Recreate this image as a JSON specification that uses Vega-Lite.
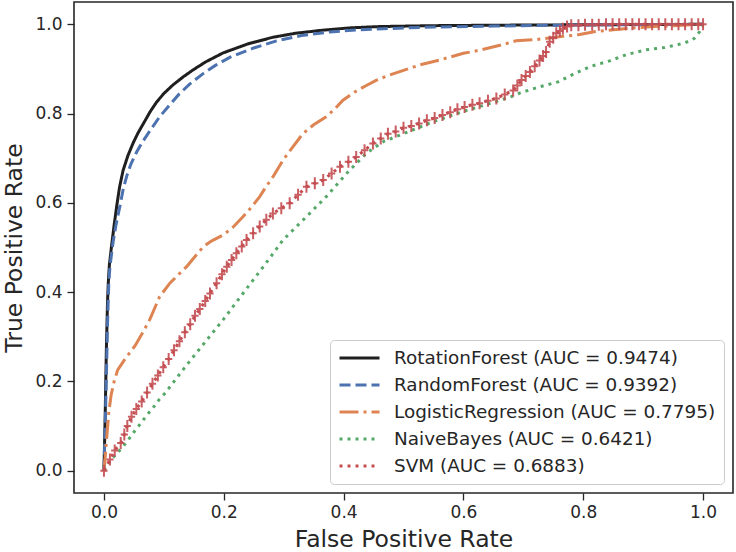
{
  "$schema": "https://vega.github.io/schema/vega-lite/v6.json",
  "autosize": {"type": "none"},
  "width": 659,
  "height": 491,
  "padding": {"left": 74, "top": 2, "right": 3, "bottom": 59},
  "background": "white",
  "config": {
    "view": {"stroke": "#262626", "strokeWidth": 1.6},
    "axis": {"grid": false, "domain": false, "tickSize": 7, "tickWidth": 1.3, "tickColor": "#262626",
      "labelFont": "DejaVu Sans", "labelFontSize": 17, "labelColor": "#262626",
      "titleFont": "DejaVu Sans", "titleFontSize": 23.5, "titleFontWeight": "normal", "titleColor": "#262626"},
    "legend": {"labelFont": "DejaVu Sans", "labelFontSize": 18.4, "labelColor": "#262626", "labelLimit": 0}
  },
  "datasets": {
    "roc": [
      {"model": "RotationForest", "fpr": 0, "tpr": 0},
      {"model": "RotationForest", "fpr": 0.002, "tpr": 0.12},
      {"model": "RotationForest", "fpr": 0.004, "tpr": 0.27},
      {"model": "RotationForest", "fpr": 0.006, "tpr": 0.38},
      {"model": "RotationForest", "fpr": 0.0072, "tpr": 0.42},
      {"model": "RotationForest", "fpr": 0.009, "tpr": 0.46},
      {"model": "RotationForest", "fpr": 0.0128, "tpr": 0.505},
      {"model": "RotationForest", "fpr": 0.017, "tpr": 0.55},
      {"model": "RotationForest", "fpr": 0.021, "tpr": 0.59},
      {"model": "RotationForest", "fpr": 0.026, "tpr": 0.635},
      {"model": "RotationForest", "fpr": 0.032, "tpr": 0.673},
      {"model": "RotationForest", "fpr": 0.04, "tpr": 0.706},
      {"model": "RotationForest", "fpr": 0.049, "tpr": 0.735},
      {"model": "RotationForest", "fpr": 0.057, "tpr": 0.757},
      {"model": "RotationForest", "fpr": 0.066, "tpr": 0.778},
      {"model": "RotationForest", "fpr": 0.077, "tpr": 0.804},
      {"model": "RotationForest", "fpr": 0.088, "tpr": 0.826},
      {"model": "RotationForest", "fpr": 0.1, "tpr": 0.845},
      {"model": "RotationForest", "fpr": 0.115, "tpr": 0.864},
      {"model": "RotationForest", "fpr": 0.132, "tpr": 0.882},
      {"model": "RotationForest", "fpr": 0.15, "tpr": 0.899},
      {"model": "RotationForest", "fpr": 0.17, "tpr": 0.916},
      {"model": "RotationForest", "fpr": 0.199, "tpr": 0.936},
      {"model": "RotationForest", "fpr": 0.24, "tpr": 0.956},
      {"model": "RotationForest", "fpr": 0.282, "tpr": 0.971},
      {"model": "RotationForest", "fpr": 0.32, "tpr": 0.98},
      {"model": "RotationForest", "fpr": 0.366, "tpr": 0.987},
      {"model": "RotationForest", "fpr": 0.41, "tpr": 0.992},
      {"model": "RotationForest", "fpr": 0.46, "tpr": 0.995},
      {"model": "RotationForest", "fpr": 0.55, "tpr": 0.997},
      {"model": "RotationForest", "fpr": 0.65, "tpr": 0.998},
      {"model": "RotationForest", "fpr": 0.8, "tpr": 0.999},
      {"model": "RotationForest", "fpr": 1, "tpr": 1},
      {"model": "RandomForest", "fpr": 0, "tpr": 0},
      {"model": "RandomForest", "fpr": 0.003, "tpr": 0.15},
      {"model": "RandomForest", "fpr": 0.006, "tpr": 0.33},
      {"model": "RandomForest", "fpr": 0.008, "tpr": 0.42},
      {"model": "RandomForest", "fpr": 0.01, "tpr": 0.457},
      {"model": "RandomForest", "fpr": 0.015, "tpr": 0.51},
      {"model": "RandomForest", "fpr": 0.02, "tpr": 0.55},
      {"model": "RandomForest", "fpr": 0.027, "tpr": 0.595},
      {"model": "RandomForest", "fpr": 0.032, "tpr": 0.63},
      {"model": "RandomForest", "fpr": 0.038, "tpr": 0.66},
      {"model": "RandomForest", "fpr": 0.045, "tpr": 0.687},
      {"model": "RandomForest", "fpr": 0.055, "tpr": 0.715},
      {"model": "RandomForest", "fpr": 0.066, "tpr": 0.74},
      {"model": "RandomForest", "fpr": 0.08, "tpr": 0.768},
      {"model": "RandomForest", "fpr": 0.093, "tpr": 0.793},
      {"model": "RandomForest", "fpr": 0.11, "tpr": 0.82},
      {"model": "RandomForest", "fpr": 0.125, "tpr": 0.843},
      {"model": "RandomForest", "fpr": 0.143, "tpr": 0.866},
      {"model": "RandomForest", "fpr": 0.165, "tpr": 0.889},
      {"model": "RandomForest", "fpr": 0.186, "tpr": 0.908},
      {"model": "RandomForest", "fpr": 0.21, "tpr": 0.926},
      {"model": "RandomForest", "fpr": 0.25, "tpr": 0.947},
      {"model": "RandomForest", "fpr": 0.288, "tpr": 0.963},
      {"model": "RandomForest", "fpr": 0.33, "tpr": 0.975},
      {"model": "RandomForest", "fpr": 0.377, "tpr": 0.983},
      {"model": "RandomForest", "fpr": 0.42, "tpr": 0.987},
      {"model": "RandomForest", "fpr": 0.466, "tpr": 0.99},
      {"model": "RandomForest", "fpr": 0.55, "tpr": 0.994},
      {"model": "RandomForest", "fpr": 0.65, "tpr": 0.996},
      {"model": "RandomForest", "fpr": 0.75, "tpr": 0.998},
      {"model": "RandomForest", "fpr": 0.85, "tpr": 0.999},
      {"model": "RandomForest", "fpr": 1, "tpr": 1},
      {"model": "LogisticRegression", "fpr": 0, "tpr": 0},
      {"model": "LogisticRegression", "fpr": 0.002, "tpr": 0.03},
      {"model": "LogisticRegression", "fpr": 0.005, "tpr": 0.08},
      {"model": "LogisticRegression", "fpr": 0.008, "tpr": 0.13},
      {"model": "LogisticRegression", "fpr": 0.012, "tpr": 0.17},
      {"model": "LogisticRegression", "fpr": 0.017, "tpr": 0.2},
      {"model": "LogisticRegression", "fpr": 0.023, "tpr": 0.226},
      {"model": "LogisticRegression", "fpr": 0.035, "tpr": 0.25},
      {"model": "LogisticRegression", "fpr": 0.052, "tpr": 0.28},
      {"model": "LogisticRegression", "fpr": 0.065, "tpr": 0.31},
      {"model": "LogisticRegression", "fpr": 0.077, "tpr": 0.34},
      {"model": "LogisticRegression", "fpr": 0.093, "tpr": 0.39},
      {"model": "LogisticRegression", "fpr": 0.11, "tpr": 0.42},
      {"model": "LogisticRegression", "fpr": 0.125, "tpr": 0.44},
      {"model": "LogisticRegression", "fpr": 0.138, "tpr": 0.457},
      {"model": "LogisticRegression", "fpr": 0.152, "tpr": 0.48},
      {"model": "LogisticRegression", "fpr": 0.166, "tpr": 0.502},
      {"model": "LogisticRegression", "fpr": 0.18, "tpr": 0.515},
      {"model": "LogisticRegression", "fpr": 0.199, "tpr": 0.528},
      {"model": "LogisticRegression", "fpr": 0.215, "tpr": 0.545},
      {"model": "LogisticRegression", "fpr": 0.232, "tpr": 0.569},
      {"model": "LogisticRegression", "fpr": 0.246, "tpr": 0.59},
      {"model": "LogisticRegression", "fpr": 0.26, "tpr": 0.614},
      {"model": "LogisticRegression", "fpr": 0.27, "tpr": 0.635},
      {"model": "LogisticRegression", "fpr": 0.282, "tpr": 0.658},
      {"model": "LogisticRegression", "fpr": 0.299, "tpr": 0.696},
      {"model": "LogisticRegression", "fpr": 0.315, "tpr": 0.725},
      {"model": "LogisticRegression", "fpr": 0.332, "tpr": 0.755},
      {"model": "LogisticRegression", "fpr": 0.35, "tpr": 0.775},
      {"model": "LogisticRegression", "fpr": 0.371, "tpr": 0.793},
      {"model": "LogisticRegression", "fpr": 0.385, "tpr": 0.81},
      {"model": "LogisticRegression", "fpr": 0.399, "tpr": 0.83},
      {"model": "LogisticRegression", "fpr": 0.418, "tpr": 0.848},
      {"model": "LogisticRegression", "fpr": 0.438, "tpr": 0.863},
      {"model": "LogisticRegression", "fpr": 0.455, "tpr": 0.875},
      {"model": "LogisticRegression", "fpr": 0.472, "tpr": 0.884},
      {"model": "LogisticRegression", "fpr": 0.5, "tpr": 0.897},
      {"model": "LogisticRegression", "fpr": 0.53, "tpr": 0.91},
      {"model": "LogisticRegression", "fpr": 0.56, "tpr": 0.92},
      {"model": "LogisticRegression", "fpr": 0.6, "tpr": 0.935},
      {"model": "LogisticRegression", "fpr": 0.627, "tpr": 0.942},
      {"model": "LogisticRegression", "fpr": 0.661, "tpr": 0.953},
      {"model": "LogisticRegression", "fpr": 0.688, "tpr": 0.963},
      {"model": "LogisticRegression", "fpr": 0.722, "tpr": 0.966},
      {"model": "LogisticRegression", "fpr": 0.766, "tpr": 0.973},
      {"model": "LogisticRegression", "fpr": 0.794, "tpr": 0.977},
      {"model": "LogisticRegression", "fpr": 0.816, "tpr": 0.983},
      {"model": "LogisticRegression", "fpr": 0.85, "tpr": 0.988},
      {"model": "LogisticRegression", "fpr": 0.905, "tpr": 0.994},
      {"model": "LogisticRegression", "fpr": 0.95, "tpr": 0.997},
      {"model": "LogisticRegression", "fpr": 1, "tpr": 1},
      {"model": "NaiveBayes", "fpr": 0, "tpr": 0},
      {"model": "NaiveBayes", "fpr": 0.01, "tpr": 0.021},
      {"model": "NaiveBayes", "fpr": 0.021, "tpr": 0.038},
      {"model": "NaiveBayes", "fpr": 0.032, "tpr": 0.054},
      {"model": "NaiveBayes", "fpr": 0.042, "tpr": 0.072},
      {"model": "NaiveBayes", "fpr": 0.052, "tpr": 0.09},
      {"model": "NaiveBayes", "fpr": 0.062, "tpr": 0.107},
      {"model": "NaiveBayes", "fpr": 0.072, "tpr": 0.125},
      {"model": "NaiveBayes", "fpr": 0.082, "tpr": 0.141},
      {"model": "NaiveBayes", "fpr": 0.092, "tpr": 0.159},
      {"model": "NaiveBayes", "fpr": 0.103, "tpr": 0.175},
      {"model": "NaiveBayes", "fpr": 0.113, "tpr": 0.193},
      {"model": "NaiveBayes", "fpr": 0.14, "tpr": 0.24},
      {"model": "NaiveBayes", "fpr": 0.17, "tpr": 0.29},
      {"model": "NaiveBayes", "fpr": 0.2, "tpr": 0.34},
      {"model": "NaiveBayes", "fpr": 0.232, "tpr": 0.397},
      {"model": "NaiveBayes", "fpr": 0.266, "tpr": 0.457},
      {"model": "NaiveBayes", "fpr": 0.299, "tpr": 0.517},
      {"model": "NaiveBayes", "fpr": 0.338, "tpr": 0.569},
      {"model": "NaiveBayes", "fpr": 0.371, "tpr": 0.614},
      {"model": "NaiveBayes", "fpr": 0.405, "tpr": 0.666},
      {"model": "NaiveBayes", "fpr": 0.438, "tpr": 0.711},
      {"model": "NaiveBayes", "fpr": 0.466, "tpr": 0.737},
      {"model": "NaiveBayes", "fpr": 0.5, "tpr": 0.755},
      {"model": "NaiveBayes", "fpr": 0.55, "tpr": 0.782},
      {"model": "NaiveBayes", "fpr": 0.6, "tpr": 0.805},
      {"model": "NaiveBayes", "fpr": 0.65, "tpr": 0.825},
      {"model": "NaiveBayes", "fpr": 0.68, "tpr": 0.838},
      {"model": "NaiveBayes", "fpr": 0.694, "tpr": 0.846},
      {"model": "NaiveBayes", "fpr": 0.727, "tpr": 0.86},
      {"model": "NaiveBayes", "fpr": 0.758, "tpr": 0.871},
      {"model": "NaiveBayes", "fpr": 0.786, "tpr": 0.89},
      {"model": "NaiveBayes", "fpr": 0.813, "tpr": 0.906},
      {"model": "NaiveBayes", "fpr": 0.844, "tpr": 0.918},
      {"model": "NaiveBayes", "fpr": 0.872, "tpr": 0.932},
      {"model": "NaiveBayes", "fpr": 0.905, "tpr": 0.943},
      {"model": "NaiveBayes", "fpr": 0.936, "tpr": 0.948},
      {"model": "NaiveBayes", "fpr": 0.969, "tpr": 0.958},
      {"model": "NaiveBayes", "fpr": 0.985, "tpr": 0.968},
      {"model": "NaiveBayes", "fpr": 0.994, "tpr": 0.983},
      {"model": "NaiveBayes", "fpr": 1, "tpr": 1},
      {"model": "SVM", "fpr": 0, "tpr": 0},
      {"model": "SVM", "fpr": 0.01, "tpr": 0.025},
      {"model": "SVM", "fpr": 0.018, "tpr": 0.045},
      {"model": "SVM", "fpr": 0.028, "tpr": 0.062},
      {"model": "SVM", "fpr": 0.034, "tpr": 0.081},
      {"model": "SVM", "fpr": 0.039, "tpr": 0.1},
      {"model": "SVM", "fpr": 0.046, "tpr": 0.121},
      {"model": "SVM", "fpr": 0.054, "tpr": 0.138},
      {"model": "SVM", "fpr": 0.063, "tpr": 0.155},
      {"model": "SVM", "fpr": 0.072, "tpr": 0.175},
      {"model": "SVM", "fpr": 0.081, "tpr": 0.195},
      {"model": "SVM", "fpr": 0.09, "tpr": 0.213},
      {"model": "SVM", "fpr": 0.099, "tpr": 0.232},
      {"model": "SVM", "fpr": 0.108, "tpr": 0.25},
      {"model": "SVM", "fpr": 0.117, "tpr": 0.27},
      {"model": "SVM", "fpr": 0.126, "tpr": 0.29},
      {"model": "SVM", "fpr": 0.135, "tpr": 0.31},
      {"model": "SVM", "fpr": 0.144, "tpr": 0.328},
      {"model": "SVM", "fpr": 0.152, "tpr": 0.347},
      {"model": "SVM", "fpr": 0.16, "tpr": 0.362},
      {"model": "SVM", "fpr": 0.169, "tpr": 0.38},
      {"model": "SVM", "fpr": 0.177, "tpr": 0.397},
      {"model": "SVM", "fpr": 0.188, "tpr": 0.42},
      {"model": "SVM", "fpr": 0.197, "tpr": 0.44},
      {"model": "SVM", "fpr": 0.205, "tpr": 0.457},
      {"model": "SVM", "fpr": 0.213, "tpr": 0.472},
      {"model": "SVM", "fpr": 0.221, "tpr": 0.487},
      {"model": "SVM", "fpr": 0.23, "tpr": 0.502},
      {"model": "SVM", "fpr": 0.238, "tpr": 0.517},
      {"model": "SVM", "fpr": 0.249, "tpr": 0.532},
      {"model": "SVM", "fpr": 0.26, "tpr": 0.547},
      {"model": "SVM", "fpr": 0.271, "tpr": 0.562},
      {"model": "SVM", "fpr": 0.282, "tpr": 0.576},
      {"model": "SVM", "fpr": 0.296, "tpr": 0.588},
      {"model": "SVM", "fpr": 0.31, "tpr": 0.599},
      {"model": "SVM", "fpr": 0.324, "tpr": 0.618},
      {"model": "SVM", "fpr": 0.338, "tpr": 0.636},
      {"model": "SVM", "fpr": 0.352, "tpr": 0.644},
      {"model": "SVM", "fpr": 0.366, "tpr": 0.651},
      {"model": "SVM", "fpr": 0.38, "tpr": 0.666},
      {"model": "SVM", "fpr": 0.394, "tpr": 0.681},
      {"model": "SVM", "fpr": 0.408, "tpr": 0.692},
      {"model": "SVM", "fpr": 0.421, "tpr": 0.703},
      {"model": "SVM", "fpr": 0.435, "tpr": 0.718},
      {"model": "SVM", "fpr": 0.449, "tpr": 0.733},
      {"model": "SVM", "fpr": 0.462, "tpr": 0.744},
      {"model": "SVM", "fpr": 0.474, "tpr": 0.755},
      {"model": "SVM", "fpr": 0.487, "tpr": 0.76},
      {"model": "SVM", "fpr": 0.5, "tpr": 0.768},
      {"model": "SVM", "fpr": 0.513, "tpr": 0.772},
      {"model": "SVM", "fpr": 0.526, "tpr": 0.778},
      {"model": "SVM", "fpr": 0.539, "tpr": 0.785},
      {"model": "SVM", "fpr": 0.552, "tpr": 0.79},
      {"model": "SVM", "fpr": 0.565, "tpr": 0.797},
      {"model": "SVM", "fpr": 0.578, "tpr": 0.803},
      {"model": "SVM", "fpr": 0.59, "tpr": 0.81},
      {"model": "SVM", "fpr": 0.602, "tpr": 0.815},
      {"model": "SVM", "fpr": 0.615, "tpr": 0.82},
      {"model": "SVM", "fpr": 0.627, "tpr": 0.823},
      {"model": "SVM", "fpr": 0.641, "tpr": 0.829},
      {"model": "SVM", "fpr": 0.655, "tpr": 0.834},
      {"model": "SVM", "fpr": 0.669, "tpr": 0.843},
      {"model": "SVM", "fpr": 0.683, "tpr": 0.852},
      {"model": "SVM", "fpr": 0.69, "tpr": 0.863},
      {"model": "SVM", "fpr": 0.697, "tpr": 0.875},
      {"model": "SVM", "fpr": 0.704, "tpr": 0.884},
      {"model": "SVM", "fpr": 0.711, "tpr": 0.893},
      {"model": "SVM", "fpr": 0.719, "tpr": 0.906},
      {"model": "SVM", "fpr": 0.727, "tpr": 0.919},
      {"model": "SVM", "fpr": 0.733, "tpr": 0.929},
      {"model": "SVM", "fpr": 0.738, "tpr": 0.938},
      {"model": "SVM", "fpr": 0.744, "tpr": 0.961},
      {"model": "SVM", "fpr": 0.75, "tpr": 0.97},
      {"model": "SVM", "fpr": 0.755, "tpr": 0.98},
      {"model": "SVM", "fpr": 0.761, "tpr": 0.985},
      {"model": "SVM", "fpr": 0.766, "tpr": 0.99},
      {"model": "SVM", "fpr": 0.773, "tpr": 0.995},
      {"model": "SVM", "fpr": 0.78, "tpr": 0.998},
      {"model": "SVM", "fpr": 0.792, "tpr": 0.998},
      {"model": "SVM", "fpr": 0.803, "tpr": 0.999},
      {"model": "SVM", "fpr": 0.815, "tpr": 0.999},
      {"model": "SVM", "fpr": 0.826, "tpr": 0.999},
      {"model": "SVM", "fpr": 0.838, "tpr": 1},
      {"model": "SVM", "fpr": 0.849, "tpr": 1},
      {"model": "SVM", "fpr": 0.86, "tpr": 1},
      {"model": "SVM", "fpr": 0.871, "tpr": 1},
      {"model": "SVM", "fpr": 0.882, "tpr": 1},
      {"model": "SVM", "fpr": 0.893, "tpr": 1},
      {"model": "SVM", "fpr": 0.904, "tpr": 1},
      {"model": "SVM", "fpr": 0.915, "tpr": 1},
      {"model": "SVM", "fpr": 0.926, "tpr": 1},
      {"model": "SVM", "fpr": 0.937, "tpr": 1},
      {"model": "SVM", "fpr": 0.948, "tpr": 1},
      {"model": "SVM", "fpr": 0.959, "tpr": 1},
      {"model": "SVM", "fpr": 0.97, "tpr": 1},
      {"model": "SVM", "fpr": 0.981, "tpr": 1},
      {"model": "SVM", "fpr": 0.992, "tpr": 1},
      {"model": "SVM", "fpr": 1, "tpr": 1}
    ]
  },
  "data": {"name": "roc"},
  "encoding": {
    "x": {"field": "fpr", "type": "quantitative", "scale": {"domain": [-0.05, 1.05], "nice": false, "zero": false},
      "axis": {"values": [0, 0.2, 0.4, 0.6, 0.8, 1], "format": ".1f", "title": "False Positive Rate", "labelPadding": 4, "titlePadding": 7}},
    "y": {"field": "tpr", "type": "quantitative", "scale": {"domain": [-0.05, 1.05], "nice": false, "zero": false},
      "axis": {"values": [0, 0.2, 0.4, 0.6, 0.8, 1], "format": ".1f", "title": "True Positive Rate", "labelPadding": 5, "titlePadding": 8}}
  },
  "layer": [
    {
      "mark": {"type": "line", "strokeWidth": 3, "strokeCap": "butt", "clip": true},
      "encoding": {
        "order": {"field": "fpr", "type": "quantitative"},
        "color": {"field": "model", "type": "nominal",
          "scale": {"domain": ["RotationForest", "RandomForest", "LogisticRegression", "NaiveBayes", "SVM"],
            "range": ["#1f1f1f", "#4c72b0", "#dd8452", "#55a868", "#c44e52"]},
          "legend": {"title": null, "orient": "bottom-right", "offset": 9, "symbolType": "stroke", "symbolSize": 1600,
            "symbolStrokeWidth": 3, "clipHeight": 20, "rowPadding": 7, "labelOffset": 13, "padding": 8,
            "fillColor": "white", "strokeColor": "#cccccc", "cornerRadius": 4, "labelLimit": 0,
            "labelExpr": "datum.label == 'RotationForest' ? 'RotationForest (AUC = 0.9474)' : datum.label == 'RandomForest' ? 'RandomForest (AUC = 0.9392)' : datum.label == 'LogisticRegression' ? 'LogisticRegression (AUC = 0.7795)' : datum.label == 'NaiveBayes' ? 'NaiveBayes (AUC = 0.6421)' : 'SVM (AUC = 0.6883)'"}},
        "strokeDash": {"field": "model", "type": "nominal",
          "scale": {"domain": ["RotationForest", "RandomForest", "LogisticRegression", "NaiveBayes", "SVM"],
            "range": [[1, 0], [11, 5], [19, 5, 3, 5], [3, 5], [3, 5]]}}
      }
    },
    {
      "transform": [{"filter": "datum.model == 'SVM'"}],
      "mark": {"type": "point", "shape": "M0,-1V1M-0.6,0H0.6", "size": 144, "filled": false, "stroke": "#c44e52", "strokeWidth": 2, "opacity": 0.9, "clip": true}
    }
  ]
}
